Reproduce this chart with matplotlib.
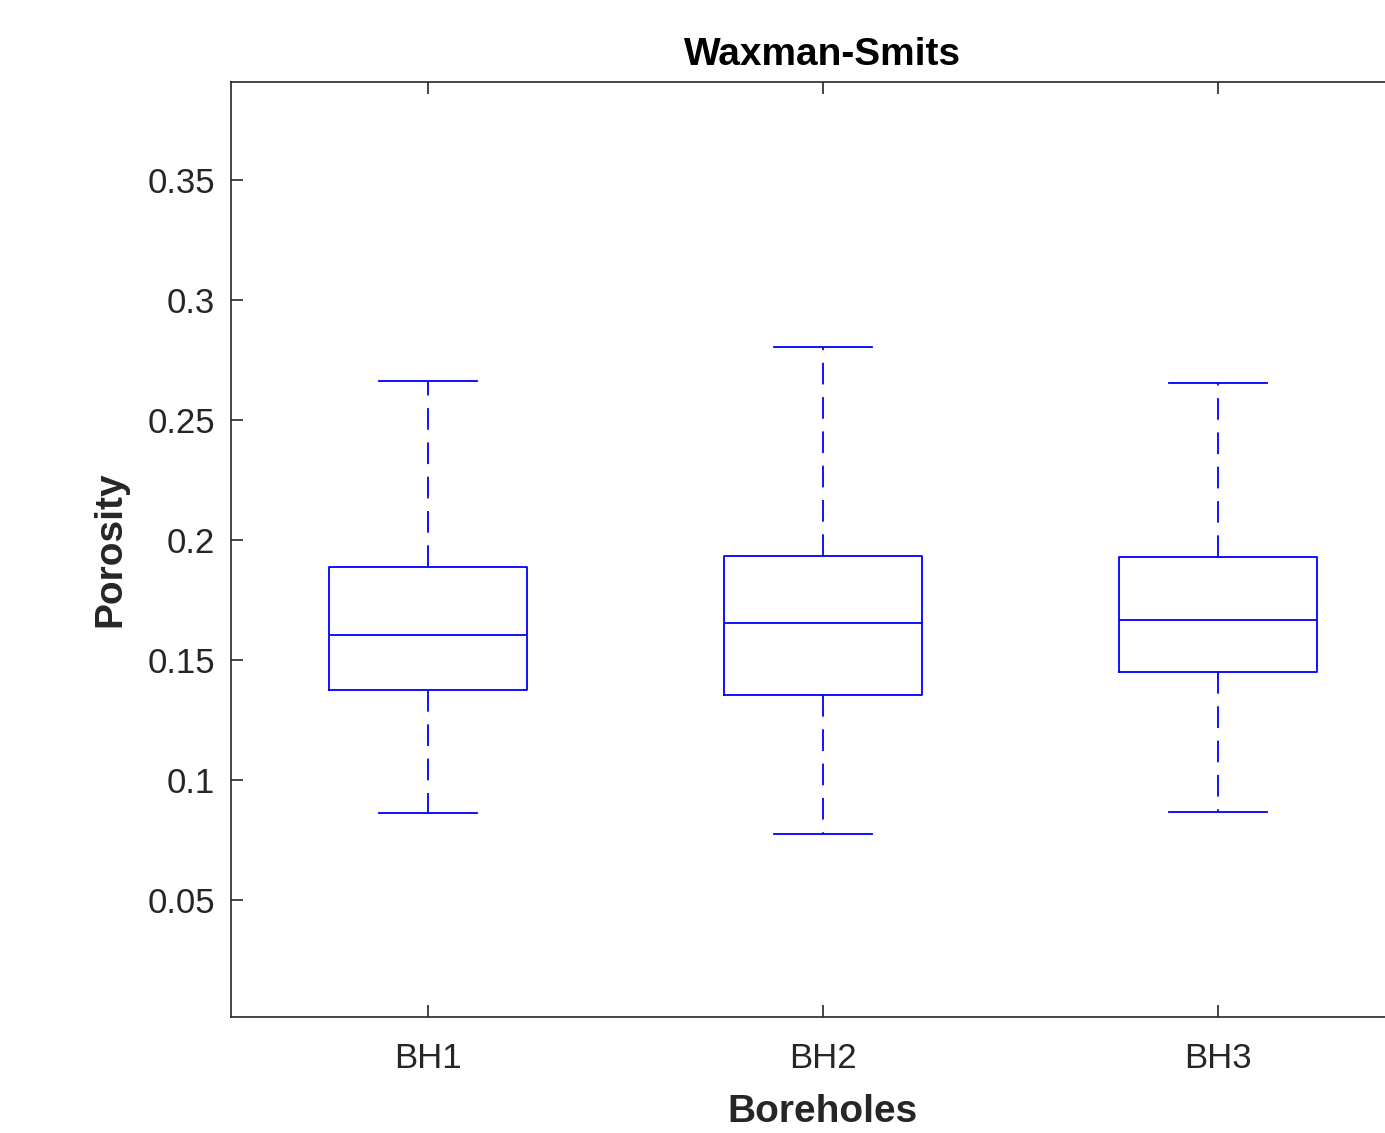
import matplotlib
matplotlib.use("Agg")
import matplotlib.pyplot as plt

labels = ["BH1", "BH2", "BH3"]
whislo = [0.0862, 0.0775, 0.0867]
q1 = [0.1375, 0.1354, 0.1450]
med = [0.1604, 0.1654, 0.1667]
q3 = [0.1888, 0.1933, 0.1929]
whishi = [0.2662, 0.2804, 0.2654]
yticks = [0.05, 0.1, 0.15, 0.2, 0.25, 0.3, 0.35]
ytick_labels = ["0.05", "0.1", "0.15", "0.2", "0.25", "0.3", "0.35"]

plt.rcParams['font.family'] = ['Liberation Sans', 'DejaVu Sans']

fig = plt.figure(figsize=(13.85, 11.33), dpi=100)
ax = fig.add_axes([230.5/1385, (1133-1017)/1133, 1185/1385, 935/1133])

stats = []
for i, lab in enumerate(labels):
    stats.append(dict(label=lab, whislo=whislo[i], q1=q1[i], med=med[i],
                      q3=q3[i], whishi=whishi[i], fliers=[]))

blue = '#0000ff'
ax.bxp(stats, positions=[1, 2, 3], widths=0.5, showfliers=False,
       boxprops=dict(color=blue, linewidth=1.3),
       medianprops=dict(color=blue, linewidth=1.3),
       whiskerprops=dict(color=blue, linewidth=1.3, linestyle=(0, (12, 7))),
       capprops=dict(color=blue, linewidth=1.3),
       capwidths=0.25)

ax.set_xlim(0.5, 3.5)
ax.set_ylim(0.00125, 0.3908)
ax.set_yticks(yticks)
ax.set_yticklabels(ytick_labels)
ax.set_xticks([1, 2, 3])
ax.set_xticklabels(labels)

dark = '#262626'
for s in ax.spines.values():
    s.set_color(dark)
    s.set_linewidth(1.2)
ax.tick_params(axis='both', which='major', direction='in', length=8.5, width=1.2,
               colors=dark, labelsize=25, top=True, right=True)
ax.tick_params(axis='y', pad=11)
ax.tick_params(axis='x', pad=18)

ax.set_title("Waxman-Smits", fontsize=28, fontweight='bold', color='black', pad=12)
ax.set_xlabel("Boreholes", fontsize=28, fontweight='bold', color=dark, labelpad=14)
ax.set_ylabel("Porosity", fontsize=28, fontweight='bold', color=dark, labelpad=14)

fig.savefig("out.png", dpi=100)
